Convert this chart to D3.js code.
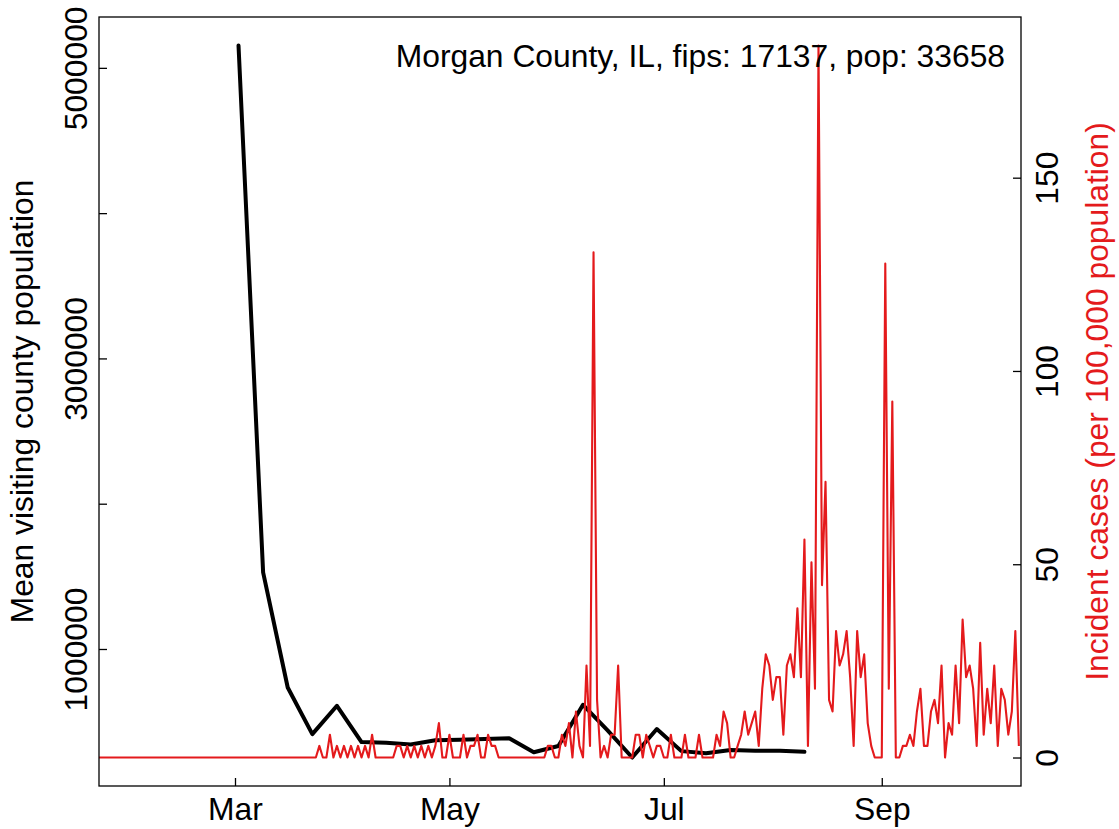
<!DOCTYPE html>
<html><head><meta charset="utf-8">
<script src="https://cdn.jsdelivr.net/npm/d3@7"></script>
<style>
body{margin:0;background:#fff}
svg{display:block}
text{font-family:"Liberation Sans",Arial,Helvetica,sans-serif}
</style>
</head><body>
<svg id="c" width="1119" height="829"></svg>
<script>
// ---- data ----
const caseStart = "2020-01-22";
// daily incident cases per 100,000 population (Jan 22 .. Oct 10, 2020)
const incidence = [
  0,0,0,0,0,0,0,0,0,0, 0,0,0,0,0,0,0,0,0,0,
  0,0,0,0,0,0,0,0,0,0, 0,0,0,0,0,0,0,0,0,0,
  0,0,0,0,0,0,0,0,0,0, 0,0,0,0,0,0,0,0,0,0,
  0,0,0,
  3.0,0,0,5.9,0,3.0,0,3.0,0,3.0,0,3.0,0,3.0,0,5.9,
  0,0,0,0,0,0,
  3.0,3.0,0,3.0,0,3.0,0,3.0,0,3.0,0,3.0,8.9,0,0,5.9,0,0,0,5.9,0,3.0,3.0,5.9,0,0,5.9,3.0,3.0,
  0,0,0,0,0,0,0,0,0,0,0,0,0,0,
  3.0,3.0,0,0,5.9,3.0,8.9,0,11.9,3.0,0,23.8,3.0,130.7,14.9,0,3.0,0,5.9,5.9,23.8,
  0,0,0,0,5.9,5.9,0,5.9,3.0,0,3.0,3.0,0,0,5.9,0,0,0,5.9,0,0,0,5.9,0,0,0,0,5.9,3.0,11.9,8.9,
  0,0,3.0,5.9,11.9,5.9,8.9,11.9,3.0,17.8,26.7,23.8,14.9,20.8,20.8,5.9,23.8,26.7,20.8,38.6,20.8,56.4,3.0,50.5,17.8,184.2,44.6,71.3,14.9,11.9,
  32.7,23.8,26.7,32.7,20.8,3.0,32.7,20.8,26.7,8.9,3.0,0,0,0,127.8,17.8,92.1,0,0,3.0,3.0,5.9,3.0,11.9,17.8,3.0,3.0,11.9,14.9,8.9,
  23.8,0,8.9,5.9,23.8,8.9,35.7,20.8,23.8,17.8,3.0,29.7,5.9,17.8,8.9,23.8,3.0,17.8,14.9,5.9,11.9,32.7,3.0
];
const visitStart = "2020-03-02";
// weekly mean visiting county population
const visitors = [5154000,1527000,735000,414000,609000,359000,354000,343000,372000,375000,381000,385000,
                  289000,332000,616000,440000,253000,449000,297000,282000,305000,300000,300000,292000];
const monthTicks = ["2020-03-01","2020-05-01","2020-07-01","2020-09-01"];
const monthLabels = ["Mar","May","Jul","Sep"];
const leftTicks = [1000000,2000000,3000000,4000000,5000000];
const leftLabels = ["1000000","","3000000","","5000000"];
const rightTicks = [0,50,100,150];
const titleText = "Morgan County, IL, fips: 17137, pop: 33658";
const leftTitle = "Mean visiting county population";
const rightTitle = "Incident cases (per 100,000 population)";

// ---- layout ----
const L=99, R=1021, T=17, B=786;
const RED="#e41a1c", FS=31.8;
const svg=d3.select("#c");
const DAY=864e5;
const parse=d3.utcParse("%Y-%m-%d");
const d0=parse(caseStart), v0=parse(visitStart), mar1=parse("2020-03-01");
const caseDates=incidence.map((_,i)=>new Date(+d0+i*DAY));
const visitDates=visitors.map((_,i)=>new Date(+v0+i*7*DAY));

const x=d3.scaleUtc().domain([new Date(+mar1-38.69*DAY), new Date(+mar1+223.61*DAY)]).range([L,R]);
function pad(e){const r=e[1]-e[0];return [e[0]-0.04*r,e[1]+0.04*r];}
const yL=d3.scaleLinear().domain(pad(d3.extent(visitors))).range([B,T]);
const yR=d3.scaleLinear().domain(pad(d3.extent(incidence))).range([B,T]);

svg.append("defs").append("clipPath").attr("id","clip")
  .append("rect").attr("x",L).attr("y",T).attr("width",R-L).attr("height",B-T);

const plot=svg.append("g").attr("clip-path","url(#clip)");
plot.append("path")
  .attr("d",d3.line().x((d,i)=>x(visitDates[i])).y(d=>yL(d))(visitors))
  .attr("fill","none").attr("stroke","#000").attr("stroke-width",4)
  .attr("stroke-linejoin","round").attr("stroke-linecap","round");
plot.append("path")
  .attr("d",d3.line().x((d,i)=>x(caseDates[i])).y(d=>yR(d))(incidence))
  .attr("fill","none").attr("stroke",RED).attr("stroke-width",2.1)
  .attr("stroke-linejoin","round");

// box
svg.append("rect").attr("x",L).attr("y",T).attr("width",R-L).attr("height",B-T)
  .attr("fill","none").attr("stroke","#000").attr("stroke-width",1.3);

function styleAxis(g){
  g.select(".domain").remove();
  g.selectAll(".tick line").attr("stroke","#000").attr("stroke-width",1.3);
  g.selectAll("text").attr("font-size",FS).attr("fill","#000")
   .attr("font-family",'"Liberation Sans",Arial,Helvetica,sans-serif');
}

// left axis
const gl=svg.append("g").attr("transform",`translate(${L},0)`)
  .call(d3.axisLeft(yL).tickValues(leftTicks).tickSizeInner(-8).tickSizeOuter(0)
        .tickFormat((d,i)=>leftLabels[i]));
styleAxis(gl);
gl.selectAll(".tick text").attr("transform","rotate(-90)").attr("x",0).attr("y",-12)
  .attr("dy",null).attr("text-anchor","middle");

// right axis
const gr=svg.append("g").attr("transform",`translate(${R},0)`)
  .call(d3.axisRight(yR).tickValues(rightTicks).tickSizeInner(-8).tickSizeOuter(0)
        .tickFormat(d3.format("d")));
styleAxis(gr);
gr.selectAll(".tick text").attr("transform","rotate(-90)").attr("x",0).attr("y",37)
  .attr("dy",null).attr("text-anchor","middle");

// bottom axis
const gb=svg.append("g").attr("transform",`translate(0,${B})`)
  .call(d3.axisBottom(x).tickValues(monthTicks.map(parse)).tickSizeInner(-8).tickSizeOuter(0)
        .tickFormat((d,i)=>monthLabels[i]));
styleAxis(gb);
gb.selectAll(".tick text").attr("y",34).attr("dy",null);

// titles
svg.append("text").attr("transform",`translate(33,${(T+B)/2}) rotate(-90)`)
  .attr("text-anchor","middle").attr("font-size",FS).attr("fill","#000").text(leftTitle);
svg.append("text").attr("transform",`translate(1108,${(T+B)/2}) rotate(-90)`)
  .attr("text-anchor","middle").attr("font-size",FS).attr("fill",RED).text(rightTitle);
svg.append("text").attr("x",1005).attr("y",67).attr("text-anchor","end")
  .attr("font-size",FS).attr("fill","#000").text(titleText);
</script>
</body></html>
